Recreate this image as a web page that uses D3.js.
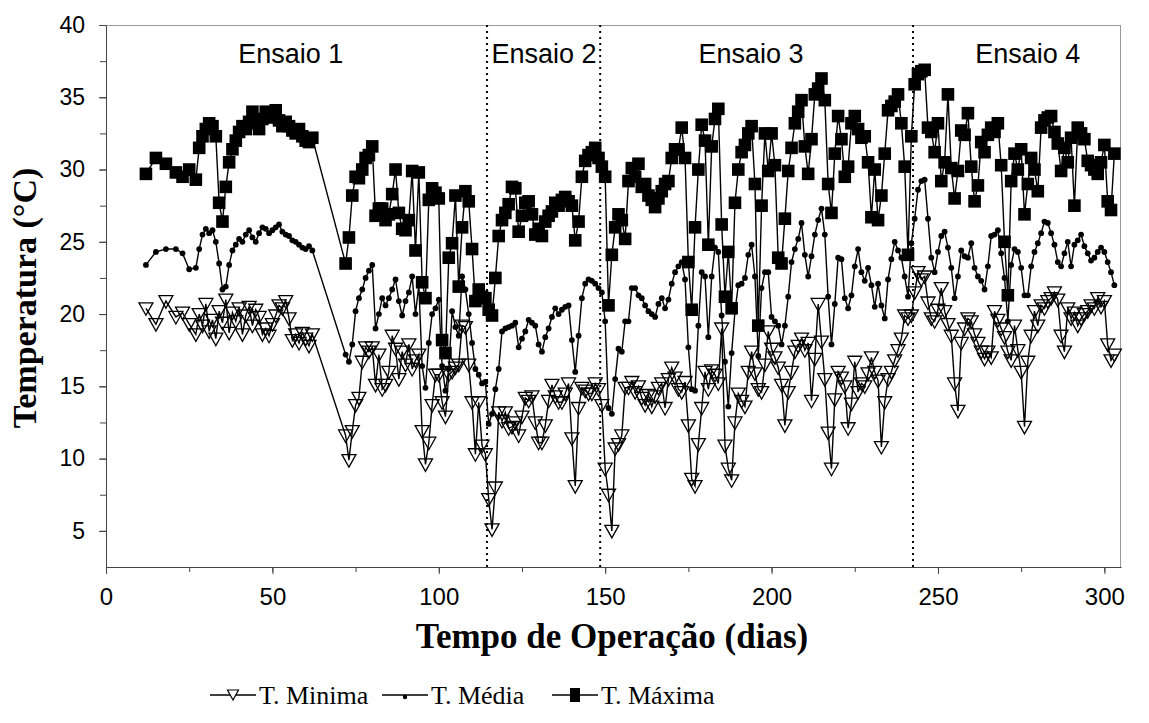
<!DOCTYPE html>
<html><head><meta charset="utf-8">
<script src="https://cdn.jsdelivr.net/npm/d3@7"></script>
<style>body{margin:0;background:#fff}</style>
</head><body><svg id="c" width="1149" height="723"></svg>
<script>
// Tempo de operação (dias)
const dias = [
 12,15,18,21,23,25,27,28,29,30,31,32,33,34,35,36,37,38,39,40,41,42,43,44,45,46,47,48,49,50,51,52,53,54,55,56,57,58,59,60,61,62,
 72,73,74,75,76,77,78,79,80,81,82,83,84,85,86,87,88,89,90,91,92,93,94,95,96,97,98,99,100,101,102,103,104,105,106,107,108,109,110,111,112,113,
 114,115,116,117,118,119,120,121,122,123,124,125,126,127,128,129,130,131,132,133,134,135,136,137,138,139,140,141,142,143,144,145,146,147,148,149,150,151,152,153,154,155,156,
 157,158,159,160,161,162,163,164,165,166,167,168,169,170,171,172,173,174,175,176,177,178,179,180,181,182,183,184,185,186,187,188,189,190,191,192,193,194,195,196,
 197,198,199,200,201,202,203,204,205,206,207,208,209,210,211,212,213,214,215,216,217,218,219,220,221,222,223,224,225,226,227,228,229,230,231,232,233,234,235,236,237,238,239,240,241,
 242,243,244,245,246,247,248,249,250,251,252,253,254,255,256,257,258,259,260,261,262,263,264,265,266,267,268,269,270,271,272,273,274,275,276,277,278,279,280,281,282,283,284,285,286,287,288,289,290,291,292,293,294,295,296,297,298,299,300,301,302,303
];
// T. Mínima (°C)
const tMin = [
 20.4,19.3,20.9,19.8,20.1,19.3,18.6,20.0,19.2,20.7,18.8,19.6,18.3,20.2,19.4,21.0,18.7,20.1,19.5,20.4,18.6,19.9,20.5,19.2,20.3,19.8,18.6,19.0,18.5,19.3,19.9,20.6,20.4,20.9,19.7,18.2,18.6,18.0,18.7,18.3,17.8,18.6,
 11.6,9.9,11.9,13.7,14.2,16.7,17.7,17.4,17.7,15.1,17.2,14.8,15.1,16.0,18.5,17.6,15.5,17.4,16.5,17.9,16.2,16.8,17.2,11.9,9.6,11.1,13.7,15.8,15.8,13.9,12.9,15.8,16.0,16.3,16.5,19.2,19.1,16.5,13.9,10.3,13.9,10.9,
 10.3,7.2,5.1,8.0,13.2,12.6,13.2,12.1,12.2,12.5,11.6,12.9,14.2,14.0,14.3,12.5,11.1,11.1,12.3,14.0,15.1,14.3,13.9,13.9,14.5,15.2,11.4,8.1,13.5,14.9,14.7,14.5,14.5,15.2,14.8,13.7,9.3,7.5,5.0,10.7,11.0,11.6,14.9,
 14.9,15.3,14.6,15.0,14.2,13.7,14.4,13.6,14.3,14.9,15.2,13.5,15.5,16.3,15.6,14.8,14.6,15.3,12.3,8.6,8.1,11.0,13.5,16.0,14.8,16.1,15.8,15.2,19.0,10.9,9.3,8.5,12.5,14.5,14.0,13.6,16.0,17.4,15.9,14.8,
 14.6,16.5,18.8,17.6,17.0,16.3,15.1,12.3,14.6,16.0,17.4,17.8,18.3,17.5,18.0,14.0,16.9,20.7,18.1,15.5,11.8,9.3,14.1,16.0,15.6,15.0,12.1,13.8,16.7,14.6,15.2,15.0,15.9,17.0,16.0,15.4,10.8,13.9,15.5,16.0,16.8,17.5,18.3,19.9,19.7,
 19.9,21.5,22.9,22.4,22.6,20.8,19.7,19.5,20.3,21.8,20.2,19.3,18.5,15.2,13.3,18.0,19.0,19.7,19.5,18.6,18.0,17.4,16.9,17.4,17.0,20.2,19.6,19.0,18.4,17.4,16.8,19.2,17.5,16.0,12.2,16.7,18.5,20.2,19.2,20.6,20.4,20.9,21.1,21.5,21.0,18.5,17.4,20.4,19.7,20.1,19.2,19.7,20.0,20.2,20.6,20.4,21.1,20.5,20.9,17.9,16.8,17.2
];
// T. Média (°C)
const tMed = [
 23.4,24.3,24.5,24.5,24.2,23.1,23.2,24.5,25.5,25.9,25.6,25.8,25.0,23.5,21.7,21.9,23.4,24.4,24.8,25.2,25.0,25.5,25.8,25.3,25.0,25.6,26.0,25.9,25.6,25.8,26.0,26.2,25.7,25.5,25.4,25.1,25.0,24.8,24.6,24.5,24.7,24.4,
 17.2,16.7,17.9,20.2,21.1,21.7,22.5,23.0,23.4,19.0,20.0,21.1,20.6,21.1,21.7,22.4,20.9,19.9,20.9,21.5,22.6,20.0,22.0,16.4,14.9,18.0,20.0,20.4,21.0,16.4,14.7,16.2,20.2,19.1,18.5,22.6,21.7,20.0,18.0,16.2,15.8,15.2,
 15.3,12.4,13.1,14.8,16.2,18.8,19.0,19.1,19.2,19.4,17.7,18.3,18.8,19.6,19.4,19.2,17.9,17.4,18.4,19.0,19.8,20.4,20.0,20.3,20.5,20.6,18.2,16.0,18.5,21.1,22.1,22.4,22.3,22.1,21.8,21.5,19.5,13.5,13.1,15.5,17.6,17.4,19.5,
 19.5,21.8,21.8,21.3,21.1,20.6,20.2,20.0,19.8,20.7,21.1,20.4,21.0,22.1,22.9,23.3,23.6,22.4,17.7,14.8,14.7,19.2,22.9,22.6,18.4,22.6,24.6,24.3,19.9,16.7,13.6,17.3,20.2,22.0,22.1,22.5,24.1,24.8,22.6,17.1,
 21.8,22.9,22.9,19.8,19.5,19.2,17.9,19.2,21.2,23.6,24.5,25.2,26.3,24.1,22.6,24.0,25.5,26.5,27.3,25.5,21.2,17.9,20.7,23.9,23.8,21.1,20.4,21.3,23.3,24.5,22.9,22.3,23.2,22.0,20.5,22.1,20.6,19.7,22.4,23.8,25.0,24.4,23.9,22.6,21.2,
 24.9,26.6,28.6,29.2,29.3,26.6,23.9,22.9,24.3,25.4,25.7,24.6,23.2,21.1,22.6,24.4,24.0,23.9,24.9,23.2,22.6,22.3,21.7,23.3,25.4,25.5,25.8,24.2,22.5,19.5,23.4,24.5,24.3,23.2,21.3,21.3,23.3,24.3,24.9,25.6,26.4,26.3,25.6,24.8,23.6,23.3,24.2,25.0,23.3,24.8,25.1,25.5,24.7,24.2,23.7,23.9,24.3,24.6,24.3,23.6,22.9,22.0
];
// T. Máxima (°C)
const tMax = [
 29.7,30.8,30.4,29.8,29.5,30.0,29.3,31.5,32.3,32.8,33.2,33.0,32.3,27.7,26.4,28.8,30.5,31.4,32.0,32.6,33.0,32.8,33.3,34.0,33.2,32.8,33.5,34.0,33.6,33.8,34.1,33.4,33.0,33.3,33.0,32.7,32.5,32.8,32.3,32.0,31.9,32.2,
 23.5,25.3,28.2,29.5,29.4,30.0,30.8,31.0,31.6,26.8,27.3,27.3,26.5,26.9,28.3,30.0,27.0,25.9,25.8,26.5,29.9,24.4,29.8,22.2,21.1,27.9,28.7,28.4,28.0,18.2,17.3,23.9,24.9,28.2,21.9,26.0,28.5,27.8,24.5,20.9,21.7,21.2,
 21.1,20.3,19.9,22.5,25.4,26.5,27.0,27.6,28.8,28.7,25.7,26.8,27.7,27.8,26.9,25.5,25.9,25.4,26.4,26.8,27.1,27.7,27.5,27.9,28.1,27.8,27.5,25.1,26.4,29.5,30.6,31.0,31.2,31.5,30.8,30.2,29.5,20.6,24.1,26.0,26.9,26.5,25.2,
 29.2,30.1,29.5,30.4,28.8,29.0,28.2,27.9,27.4,28.0,28.5,29.0,29.2,30.8,31.4,31.4,32.9,30.8,23.6,20.3,26.0,30.0,33.1,32.0,24.8,31.6,33.5,34.2,26.2,21.2,24.3,20.4,27.7,30.0,31.2,31.7,32.5,33.0,29.0,19.2,
 27.5,32.5,29.9,32.5,30.3,23.9,23.5,26.6,29.9,31.5,33.2,34.0,34.8,31.6,29.7,32.1,35.2,35.6,36.3,34.8,29.0,27.0,31.1,33.7,32.1,29.5,30.2,33.2,33.7,32.8,32.2,32.3,30.5,26.7,30.0,26.5,28.2,31.1,34.1,34.4,34.7,35.2,33.2,30.2,24.1,
 32.3,35.9,36.6,36.8,36.9,32.9,32.6,31.2,33.2,29.2,30.5,35.2,30.1,28.0,29.9,32.7,32.4,33.9,30.2,27.8,28.9,31.9,31.2,32.4,32.9,32.6,33.2,30.3,25.0,21.3,29.2,31.1,30.0,31.4,26.9,29.0,30.8,30.0,28.5,32.9,33.4,33.6,33.7,32.6,31.8,29.9,31.5,30.5,32.2,27.5,32.9,32.5,32.1,30.6,30.3,30.0,29.7,30.5,31.7,27.8,27.2,31.1
];
const xTicks = [0, 50, 100, 150, 200, 250, 300];
const yTicks = [5, 10, 15, 20, 25, 30, 35, 40];
const divisoes = [114.5, 148.5, 242.5];
const ensaioNomes = ["Ensaio 1", "Ensaio 2", "Ensaio 3", "Ensaio 4"];
const ensaioDias = [55.5, 131.6, 193.8, 277];
const serieNomes = ["T. Minima", "T. Média", "T. Máxima"];

const svg = d3.select("#c");
const L = 106, R = 1121, T = 25, B = 567;
const x = d3.scaleLinear().domain([0, 305]).range([L, R]);
const y = d3.scaleLinear().domain([2.5, 40]).range([B, T]);
const axisCol = "#444";
const sans = "Liberation Sans, Arial, sans-serif";
const serif = "Liberation Serif, Times New Roman, serif";

// frame top/right
svg.append("line").attr("x1", L).attr("x2", R).attr("y1", T + 0.5).attr("y2", T + 0.5).attr("stroke", "#999").attr("stroke-width", 1);
svg.append("line").attr("x1", R - 0.5).attr("x2", R - 0.5).attr("y1", T).attr("y2", B).attr("stroke", "#999").attr("stroke-width", 1);

// dotted division lines
svg.selectAll(".div").data(divisoes).enter().append("line")
  .attr("x1", d => x(d)).attr("x2", d => x(d)).attr("y1", T).attr("y2", B)
  .attr("stroke", "#000").attr("stroke-width", 2).attr("stroke-dasharray", "2,4");

// axes
const minorY = d3.range(5, 40.01, 2.5);
const minorX = d3.range(0, 301, 25);
const gy = svg.append("g").attr("transform", `translate(${L},0)`);
gy.call(d3.axisLeft(y).tickValues(minorY).tickSize(6).tickSizeOuter(0).tickFormat(""));
gy.selectAll("line,path").attr("stroke", axisCol);
const gyl = svg.append("g").attr("transform", `translate(${L},0)`);
gyl.call(d3.axisLeft(y).tickValues(yTicks).tickSize(7).tickSizeOuter(0).tickPadding(14));
gyl.selectAll("line").attr("stroke", axisCol);
gyl.select(".domain").remove();
gyl.selectAll("text").attr("font-family", sans).attr("font-size", 23).attr("fill", "#000");

const gx = svg.append("g").attr("transform", `translate(0,${B})`);
gx.call(d3.axisBottom(x).tickValues(minorX).tickSize(5).tickSizeOuter(0).tickFormat(""));
gx.selectAll("line,path").attr("stroke", axisCol);
const gxl = svg.append("g").attr("transform", `translate(0,${B})`);
gxl.call(d3.axisBottom(x).tickValues(xTicks).tickSize(7).tickSizeOuter(0).tickPadding(14));
gxl.selectAll("line").attr("stroke", axisCol);
gxl.select(".domain").remove();
gxl.selectAll("text").attr("font-family", sans).attr("font-size", 24).attr("fill", "#000");

// ensaio labels
svg.selectAll(".ens").data(ensaioNomes).enter().append("text")
  .attr("x", (d, i) => x(ensaioDias[i])).attr("y", 63).attr("text-anchor", "middle")
  .attr("font-family", sans).attr("font-size", 27).text(d => d);

// series
const pts = arr => dias.map((d, i) => ({d, v: arr[i]}));
const line = d3.line().x(p => x(p.d)).y(p => y(p.v));
const triPath = "M-7,-5.5L7,-5.5L0,7Z";

function drawLine(arr) {
  svg.append("path").datum(pts(arr)).attr("d", line).attr("fill", "none").attr("stroke", "#000").attr("stroke-width", 1.4);
}
drawLine(tMin);
svg.append("g").selectAll("path").data(pts(tMin)).enter().append("path")
  .attr("d", triPath).attr("transform", p => `translate(${x(p.d)},${y(p.v)})`)
  .attr("fill", "none").attr("stroke", "#000").attr("stroke-width", 1.3);
drawLine(tMed);
svg.append("g").selectAll("circle").data(pts(tMed)).enter().append("circle")
  .attr("cx", p => x(p.d)).attr("cy", p => y(p.v)).attr("r", 2.9).attr("fill", "#000");
drawLine(tMax);
svg.append("g").selectAll("rect").data(pts(tMax)).enter().append("rect")
  .attr("x", p => x(p.d) - 6.3).attr("y", p => y(p.v) - 6.3).attr("width", 12.6).attr("height", 12.6).attr("fill", "#000");

// axis titles
svg.append("text").attr("transform", `translate(36,${(T + B) / 2 + 2}) rotate(-90)`).attr("text-anchor", "middle")
  .attr("font-family", serif).attr("font-weight", "bold").attr("font-size", 34)
  .text("Temperatura (°C)");
svg.append("text").attr("x", 612).attr("y", 648).attr("text-anchor", "middle")
  .attr("font-family", serif).attr("font-weight", "bold").attr("font-size", 35)
  .text("Tempo de Operação (dias)");

// legend
const legX = [210, 382, 552];
const legY = 695;
const lg = svg.append("g");
serieNomes.forEach((nome, i) => {
  const x0 = legX[i];
  lg.append("line").attr("x1", x0).attr("x2", x0 + 46).attr("y1", legY).attr("y2", legY).attr("stroke", "#000").attr("stroke-width", 1.6);
  const cx = x0 + 23;
  if (i === 0) lg.append("path").attr("d", "M-5.5,-5L5.5,-5L0,5Z").attr("transform", `translate(${cx},${legY})`).attr("fill", "#fff").attr("stroke", "#000").attr("stroke-width", 1.2);
  if (i === 1) lg.append("circle").attr("cx", cx).attr("cy", legY + 2).attr("r", 2.2).attr("fill", "#000");
  if (i === 2) lg.append("rect").attr("x", cx - 5).attr("y", legY - 7).attr("width", 10).attr("height", 14).attr("fill", "#000");
  lg.append("text").attr("x", x0 + 49).attr("y", legY + 9).attr("font-family", serif).attr("font-size", 26).text(nome);
});
</script>
</body></html>
